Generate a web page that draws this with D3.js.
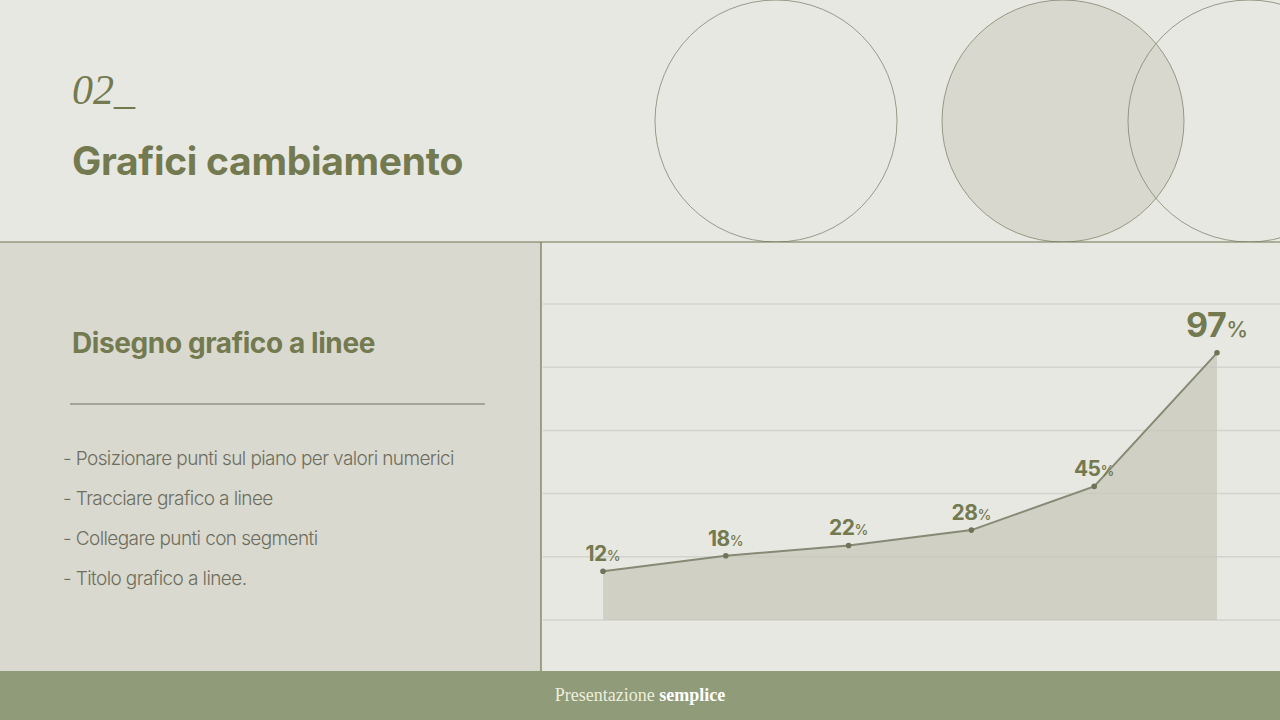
<!DOCTYPE html>
<html>
<head>
<meta charset="utf-8">
<script src="https://cdn.jsdelivr.net/npm/d3@7"></script>
<style>
  html, body { margin: 0; padding: 0; background: #e8e8e3; }
  svg { display: block; }
</style>
</head>
<body>
<svg id="slide" width="1280" height="720"></svg>
<script>
/* ------------------ data ------------------ */

const steps = ["A", "B", "C", "D", "E", "F"];
const values = [12, 18, 22, 28, 45, 97];
const bullets = [
  "- Posizionare punti sul piano per valori numerici",
  "- Tracciare grafico a linee",
  "- Collegare punti con segmenti",
  "- Titolo grafico a linee."
];

/* ------------------ constants ------------------ */

const W = 1280, H = 720;
const OLIVE = "#737a50";
const PLOT = { left: 603, right: 1217, top: 304, bottom: 620 };
const GRID_ROWS = 5;

const svg = d3.select("#slide");

/* ------------------ background ------------------ */

svg.append("rect").attr("width", W).attr("height", H).attr("fill", "#e8e8e3");

// decorative circles, clipped to the header band
svg.append("clipPath").attr("id", "head")
  .append("rect").attr("width", W).attr("height", 242);

const circles = svg.append("g").attr("clip-path", "url(#head)");
circles.append("circle").attr("cx", 776).attr("cy", 121).attr("r", 121)
  .attr("fill", "none").attr("stroke", "#83856f").attr("stroke-width", 0.8);
circles.append("circle").attr("cx", 1063).attr("cy", 121).attr("r", 121)
  .attr("fill", "#d8d8ce").attr("stroke", "#83856f").attr("stroke-width", 0.8);
circles.append("circle").attr("cx", 1249).attr("cy", 121).attr("r", 121)
  .attr("fill", "none").attr("stroke", "#83856f").attr("stroke-width", 0.8);

// left panel
svg.append("rect").attr("x", 0).attr("y", 242).attr("width", 541).attr("height", 429)
  .attr("fill", "#d9d9d0");

svg.append("line").attr("x1", 0).attr("x2", W).attr("y1", 242).attr("y2", 242)
  .attr("stroke", "#6f7450").attr("stroke-width", 1.2);
svg.append("line").attr("x1", 541).attr("x2", 541).attr("y1", 242).attr("y2", 671)
  .attr("stroke", "#6f7450").attr("stroke-width", 1.2);

// footer
svg.append("rect").attr("x", 0).attr("y", 671).attr("width", W).attr("height", 49)
  .attr("fill", "#8f9b79");

const foot = svg.append("text").attr("x", 640).attr("y", 701)
  .attr("text-anchor", "middle")
  .style("font-family", "'Liberation Serif', serif").style("font-size", "18px");
foot.append("tspan").attr("fill", "#eeeedd").text("Presentazione ");
foot.append("tspan").attr("fill", "#ffffff").style("font-weight", "bold").text("semplice");

/* ------------------ header text ------------------ */

svg.append("text").attr("x", 72).attr("y", 104)
  .style("font-family", "'Liberation Serif', serif").style("font-style", "italic")
  .style("font-size", "42px").attr("fill", OLIVE)
  .text("02_");

svg.append("text").attr("x", 72).attr("y", 175)
  .style("font-family", "Inter, sans-serif").style("font-weight", 700)
  .style("font-size", "39px").style("letter-spacing", "-0.3px").attr("fill", OLIVE)
  .text("Grafici cambiamento");

/* ------------------ left panel text ------------------ */

svg.append("text").attr("x", 72).attr("y", 353)
  .style("font-family", "Inter, sans-serif").style("font-weight", 700)
  .style("font-size", "28px").style("letter-spacing", "-0.4px").attr("fill", OLIVE)
  .text("Disegno grafico a linee");

svg.append("line").attr("x1", 70).attr("x2", 485).attr("y1", 404).attr("y2", 404)
  .attr("stroke", "#6f7360").attr("stroke-width", 1);

svg.append("g").selectAll("text")
  .data(bullets)
  .join("text")
  .attr("x", 63)
  .attr("y", (d, i) => 465 + i * 40)
  .style("font-family", "Inter, sans-serif").style("font-weight", 300)
  .style("font-size", "19px").style("letter-spacing", "-0.6px")
  .attr("fill", "#6e6e5e")
  .text(d => d);

/* ------------------ chart ------------------ */

const data = steps.map((s, i) => ({ step: s, value: values[i] }));

const x = d3.scalePoint().domain(steps).range([PLOT.left, PLOT.right]);
const y = d3.scaleLinear().domain([-7, 116]).range([PLOT.bottom, PLOT.top]);

// grid
const gridY = d3.scaleLinear().domain([0, GRID_ROWS]).range([PLOT.bottom, PLOT.top]);
svg.append("g").selectAll("line")
  .data(d3.range(GRID_ROWS + 1))
  .join("line")
  .attr("x1", 543).attr("x2", W)
  .attr("y1", d => gridY(d)).attr("y2", d => gridY(d))
  .attr("stroke", "#d3d3cb").attr("stroke-width", 1.5);

const area = d3.area()
  .x(d => x(d.step))
  .y0(PLOT.bottom)
  .y1(d => y(d.value));

svg.append("path").datum(data)
  .attr("d", area)
  .attr("fill", "#c6c6b8").attr("fill-opacity", 0.7);

const line = d3.line().x(d => x(d.step)).y(d => y(d.value));

svg.append("path").datum(data)
  .attr("d", line)
  .attr("fill", "none").attr("stroke", "#868a74").attr("stroke-width", 2);

svg.append("g").selectAll("circle")
  .data(data)
  .join("circle")
  .attr("cx", d => x(d.step)).attr("cy", d => y(d.value))
  .attr("r", 2.8).attr("fill", "#6f7358");

const last = values.length - 1;
const labels = svg.append("g").selectAll("text")
  .data(data)
  .join("text")
  .attr("x", d => x(d.step))
  .attr("y", (d, i) => y(d.value) - (i === last ? 16 : 10))
  .attr("text-anchor", "middle")
  .attr("fill", OLIVE)
  .style("font-family", "Inter, sans-serif");

labels.append("tspan")
  .style("font-weight", 700)
  .style("font-size", (d, i) => i === last ? "34px" : "21px")
  .style("letter-spacing", "-0.5px")
  .text(d => d.value);
labels.append("tspan")
  .style("font-weight", 500)
  .style("font-size", (d, i) => i === last ? "22px" : "14px")
  .text("%");
</script>
</body>
</html>
